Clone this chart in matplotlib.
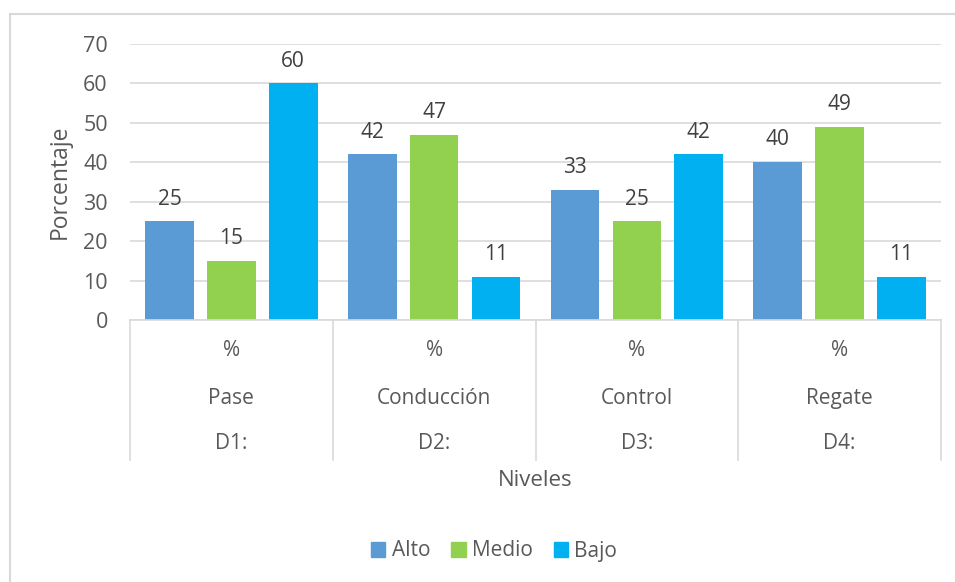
import matplotlib as mpl
import matplotlib.pyplot as plt
from matplotlib.lines import Line2D
from matplotlib.patches import Patch

mpl.use("Agg")

dimensions = ["D1:", "D2:", "D3:", "D4:"]
names = ["Pase", "Conducción", "Control", "Regate"]
unit = ["%", "%", "%", "%"]
levels = ["Alto", "Medio", "Bajo"]
alto = [25, 42, 33, 40]
medio = [15, 47, 25, 49]
bajo = [60, 11, 42, 11]
y_ticks = [0, 10, 20, 30, 40, 50, 60, 70]

_COLORS = ["#5B9BD5", "#92D050", "#00B0F0"]
_TEXT = "#595959"
_GRID = "#D9D9D9"

W, H = 955, 582
plt.rcParams["font.family"] = ["Open Sans", "DejaVu Sans"]

fig = plt.figure(figsize=(W / 100, H / 100), dpi=100)


def _px(x0, y0, x1, y1):
    return [x0 / W, 1 - y1 / H, (x1 - x0) / W, (y1 - y0) / H]


ax = fig.add_axes(_px(130, 44, 941, 320))

# outer chart frame (cropped at right/bottom)
fig.add_artist(Line2D([10 / W, 1], [1 - 14 / H] * 2, color=_GRID, lw=1.5))
fig.add_artist(Line2D([10 / W] * 2, [1 - 14 / H, 0], color=_GRID, lw=1.5))

bw = 0.24
step = 0.305
xs = range(len(dimensions))
for k, (lvl, vals) in enumerate(zip(levels, [alto, medio, bajo])):
    pos = [x + (k - 1) * step for x in xs]
    ax.bar(pos, vals, width=bw, color=_COLORS[k], label=lvl, zorder=2)
    for p, v in zip(pos, vals):
        ax.text(p, v + 3, f"{v}", ha="center", va="bottom",
                fontsize=15, color="#404040")

ax.set_xlim(-0.5, 3.5)
ax.set_ylim(0, 70)
ax.set_yticks(y_ticks)
ax.tick_params(axis="y", length=0, pad=16, labelsize=15.5, labelcolor=_TEXT)
ax.set_xticks([])
ax.grid(axis="y", color=_GRID, lw=1.2, zorder=0)
for s in ["top", "right", "left"]:
    ax.spines[s].set_visible(False)
ax.spines["bottom"].set_color(_GRID)
ax.spines["bottom"].set_linewidth(1.2)
ax.set_ylabel("Porcentaje", fontsize=16.5, color=_TEXT, labelpad=8)

# multi-level category axis
tr = ax.get_xaxis_transform()
for b in [x - 0.5 for x in range(len(dimensions) + 1)]:
    ax.add_line(Line2D([b, b], [0, -0.507], transform=tr, color=_GRID,
                       lw=1.2, clip_on=False))
for x, u, n, d in zip(xs, unit, names, dimensions):
    for yy, t in [(-0.112, u), (-0.283, n), (-0.449, d)]:
        ax.text(x, yy, t, transform=tr, ha="center", va="center",
                fontsize=15, color=_TEXT)
ax.text(0.5 * (len(dimensions) - 1), -0.583, "Niveles", transform=tr,
        ha="center", va="center", fontsize=16, color=_TEXT)

handles = [Patch(color=c, label=l) for c, l in zip(_COLORS, levels)]
fig.legend(handles=handles, loc="center", bbox_to_anchor=(494 / W, 1 - 551 / H),
           ncol=3, frameon=False, fontsize=15, handlelength=0.7,
           handleheight=0.7, handletextpad=0.3, columnspacing=1.0,
           labelcolor=_TEXT)

fig.savefig("out.png", dpi=100)
